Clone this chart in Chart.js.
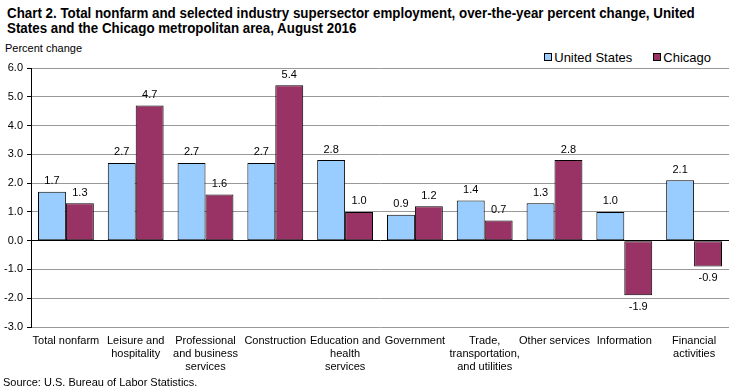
<!DOCTYPE html>
<html><head><meta charset="utf-8">
<script src="https://cdn.jsdelivr.net/npm/chart.js@4/dist/chart.umd.min.js"></script>
<style>
html,body{margin:0;padding:0;background:#fff;}
#wrap{position:relative;width:737px;height:392px;overflow:hidden;font-family:"Liberation Sans",Arial,sans-serif;}
#title{position:absolute;left:7px;top:6px;font-family:"Liberation Sans",Arial,sans-serif;font-weight:bold;font-size:14px;line-height:15px;color:#000;white-space:nowrap;transform:scaleX(0.953);transform-origin:0 0;}
#ylab{position:absolute;left:5px;top:42px;font-size:11px;color:#000;}
#legend{position:absolute;right:26px;top:50px;font-size:13px;color:#000;display:flex;gap:21px;}
#legend span.b{display:inline-block;width:6px;height:6px;border:1px solid #000;margin-right:2px;vertical-align:1px;}
#source{position:absolute;left:3px;top:376px;font-size:11px;color:#000;}
canvas{position:absolute;left:0;top:0;}
</style></head>
<body><div id="wrap">
<div id="title">Chart 2. Total nonfarm and selected industry supersector employment, over-the-year percent change, United<br>States and the Chicago metropolitan area, August 2016</div>
<div id="ylab">Percent change</div>
<div id="legend"><div><span class="b" style="background:#99CCFF"></span>United States</div><div><span class="b" style="background:#993366"></span>Chicago</div></div>
<canvas id="c" width="737" height="392"></canvas>
<div id="source">Source: U.S. Bureau of Labor Statistics.</div>
</div>
<script>
const categories = [["Total nonfarm"],["Leisure and","hospitality"],["Professional","and business","services"],["Construction"],["Education and","health","services"],["Government"],["Trade,","transportation,","and utilities"],["Other services"],["Information"],["Financial","activities"]];
const seriesNames = ["United States","Chicago"];
const usValues = [1.7,2.7,2.7,2.7,2.8,0.9,1.4,1.3,1.0,2.1];
const chicagoValues = [1.3,4.7,1.6,5.4,1.0,1.2,0.7,2.8,-1.9,-0.9];
const yMin = -3, yMax = 6, yStep = 1;

const valueLabels = {
  id:'valueLabels',
  afterDatasetsDraw(chart){
    const ctx = chart.ctx;
    ctx.save();
    ctx.font = '11px "Liberation Sans", Arial, sans-serif';
    ctx.fillStyle = '#000';
    ctx.textAlign = 'center';
    chart.data.datasets.forEach((ds,i)=>{
      chart.getDatasetMeta(i).data.forEach((el,j)=>{
        const v = ds.data[j];
        if (v >= 0){ ctx.textBaseline='bottom'; ctx.fillText(v.toFixed(1), el.x, el.y-5); }
        else { ctx.textBaseline='top'; ctx.fillText(v.toFixed(1), el.x, el.y+6); }
      });
    });
    ctx.restore();
  }
};
const frame = {
  id:'frame',
  afterDraw(chart){
    const a = chart.chartArea, ctx = chart.ctx;
    ctx.save();
    ctx.strokeStyle = '#000'; ctx.lineWidth = 1;
    ctx.beginPath(); ctx.moveTo(Math.round(a.left)+0.5, a.top); ctx.lineTo(Math.round(a.left)+0.5, a.bottom); ctx.stroke();
    ctx.restore();
  }
};

new Chart(document.getElementById('c'), {
  type:'bar',
  data:{ labels: categories, datasets:[
    {label:seriesNames[0], data:usValues, backgroundColor:'#99CCFF', borderColor:'#000', borderWidth:1, borderSkipped:false, categoryPercentage:0.8, barPercentage:1.0},
    {label:seriesNames[1], data:chicagoValues, backgroundColor:'#993366', borderColor:'#000', borderWidth:1, borderSkipped:false, categoryPercentage:0.8, barPercentage:1.0}
  ]},
  options:{
    responsive:false, animation:false, devicePixelRatio:1,
    layout:{padding:{left:0, top:68, right:8, bottom:0}},
    plugins:{legend:{display:false}, title:{display:false}, tooltip:{enabled:false}},
    scales:{
      x:{
        grid:{display:true, drawTicks:false, color:(c)=> (c.index===categories.length ? '#999' : 'rgba(0,0,0,0)')},
        border:{display:false},
        ticks:{font:{size:11, family:'"Liberation Sans", Arial, sans-serif'}, color:'#000', padding:7, maxRotation:0, autoSkip:false},
        afterFit(s){ s.height = 65; }
      },
      y:{
        min:yMin, max:yMax,
        ticks:{stepSize:yStep, callback:(v)=>Number(v).toFixed(1), font:{size:11, family:'"Liberation Sans", Arial, sans-serif'}, color:'#000', padding:4},
        grid:{color:(c)=> c.tick && c.tick.value===0 ? '#000' : '#999', tickLength:4, tickColor:'#000'},
        border:{display:true, color:'#000'},
        afterFit(s){ s.width = 31; }
      }
    }
  },
  plugins:[valueLabels, frame]
});
</script>
</body></html>
